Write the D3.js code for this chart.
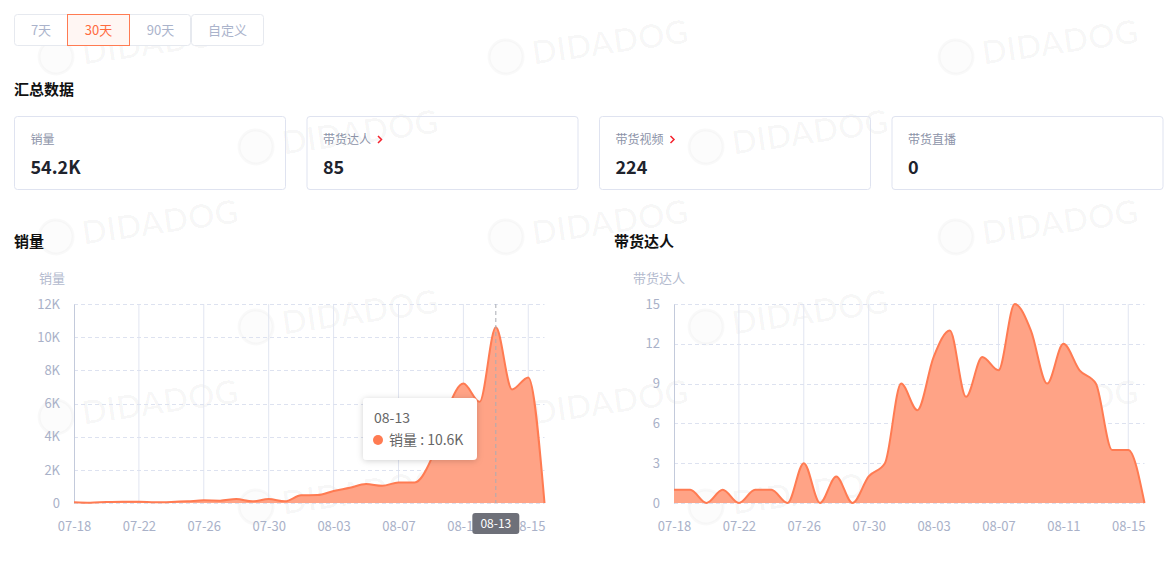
<!DOCTYPE html>
<html>
<head>
<meta charset="utf-8">
<script src="https://cdn.jsdelivr.net/npm/d3@7"></script>
<style>
  html, body { margin: 0; padding: 0; background: #fff; }
  svg { display: block; font-family: "Noto Sans CJK SC", "Noto Sans", sans-serif; }
</style>
</head>
<body>
<div id="app"></div>
<script>
// ---- data ----
const rangeOptions = ['7天', '30天', '90天', '自定义'];
const activeRange = '30天';

const summaryLabels = ['销量', '带货达人', '带货视频', '带货直播'];
const summaryValues = ['54.2K', '85', '224', '0'];
const summaryLinks = [false, true, true, false];

const dates = [
  '07-18', '07-19', '07-20', '07-21', '07-22', '07-23', '07-24', '07-25', '07-26', '07-27',
  '07-28', '07-29', '07-30', '07-31', '08-01', '08-02', '08-03', '08-04', '08-05', '08-06',
  '08-07', '08-08', '08-09', '08-10', '08-11', '08-12', '08-13', '08-14', '08-15', '08-16'
];
const salesValues = [
  50, 20, 60, 80, 80, 40, 60, 100, 160, 140,
  240, 100, 240, 100, 460, 480, 720, 920, 1140, 1040,
  1240, 1240, 2600, 5600, 7200, 6100, 10600, 6850, 7570, 0
];
const talentValues = [
  1, 1, 0, 1, 0, 1, 1, 0, 3, 0,
  2, 0, 2, 3, 9, 7, 11, 13, 8, 11,
  10, 15, 13, 9, 12, 10, 9, 4, 4, 0
];
const salesTicks = [0, 2000, 4000, 6000, 8000, 10000, 12000];
const talentTicks = [0, 3, 6, 9, 12, 15];

const W = 1167, H = 561;
const mainColor = '#ff7b52';
const areaColor = '#ffa386';
const labelColor = '#a9b1c8';

let svg = d3.select('#app').append('svg')
  .attr('width', W)
  .attr('height', H);

let defs = svg.append('defs');
let shadow = defs.append('filter').attr('id', 'tip-shadow')
  .attr('x', '-20%').attr('y', '-30%').attr('width', '140%').attr('height', '160%');
shadow.append('feDropShadow')
  .attr('dx', 0).attr('dy', 1).attr('stdDeviation', 3)
  .attr('flood-color', '#000').attr('flood-opacity', 0.18);

// ---- watermark (very faint, behind content) ----
let marks = [];
d3.range(0, 6).forEach(r => {
  let cols = r % 2 === 0 ? [34, 484, 934] : [234, 684];
  cols.forEach(c => marks.push({ x: c, y: 58 + r * 90 }));
});
let wm = svg.append('g').attr('class', 'watermark').style('pointer-events', 'none');
let mark = wm.selectAll('g')
  .data(marks)
  .enter().append('g')
  .attr('transform', d => 'translate(' + d.x + ',' + d.y + ') rotate(-8)');
mark.append('circle')
  .attr('cx', 22).attr('cy', 2).attr('r', 17)
  .attr('fill', '#000').attr('fill-opacity', 0.012)
  .attr('stroke', '#000').attr('stroke-opacity', 0.025).attr('stroke-width', 3);
mark.append('text')
  .attr('x', 48).attr('y', 2).attr('dy', '0.35em')
  .attr('font-family', 'Lato, "DejaVu Sans", sans-serif')
  .attr('font-size', 33).attr('font-weight', 'bold')
  .attr('fill', '#000').attr('fill-opacity', 0.028)
  .text('DIDADOG');

// ---- range buttons ----
let btnX = [14.5, 67.5, 129.5, 191.5, 263.5];
let btns = svg.append('g').attr('class', 'range');
btns.append('rect')
  .attr('x', btnX[0]).attr('y', 14.5)
  .attr('width', btnX[3] - btnX[0] - 1).attr('height', 31)
  .attr('rx', 3)
  .attr('fill', '#fff').attr('stroke', '#e6e9ef');
btns.append('rect')
  .attr('x', btnX[3]).attr('y', 14.5)
  .attr('width', btnX[4] - btnX[3]).attr('height', 31)
  .attr('rx', 3)
  .attr('fill', '#fff').attr('stroke', '#e6e9ef');
rangeOptions.forEach((d, i) => {
  let x0 = btnX[i], x1 = btnX[i + 1];
  if (d === activeRange) {
    btns.append('rect')
      .attr('x', x0).attr('y', 14.5)
      .attr('width', x1 - x0).attr('height', 31)
      .attr('fill', '#fff6f3').attr('stroke', '#ff7b52');
  }
  btns.append('text')
    .attr('x', (x0 + x1) / 2).attr('y', 30)
    .attr('dy', '0.35em')
    .attr('text-anchor', 'middle')
    .attr('font-size', 13)
    .attr('fill', d === activeRange ? '#ff6b3d' : '#aab3cb')
    .text(d);
});

// ---- summary ----
svg.append('text')
  .attr('x', 14).attr('y', 90).attr('dy', '0.35em')
  .attr('font-size', 15).attr('font-weight', 'bold').attr('fill', '#111')
  .text('汇总数据');

let cardW = 271, cardStep = 292.5;
let cards = svg.selectAll('g.card')
  .data(summaryLabels)
  .enter()
  .append('g')
  .attr('class', 'card')
  .attr('transform', (d, i) => 'translate(' + (14.5 + i * cardStep) + ',116.5)');

cards.append('rect')
  .attr('width', cardW).attr('height', 73)
  .attr('rx', 3)
  .attr('fill', 'none').attr('stroke', '#dfe3f0');

cards.append('text')
  .attr('x', 16).attr('y', 23).attr('dy', '0.35em')
  .attr('font-size', 12).attr('fill', '#8c93a8')
  .text(d => d);

cards.filter((d, i) => summaryLinks[i])
  .append('path')
  .attr('d', d => {
    let x = 16 + d.length * 12 + 7;
    return 'M' + x + ',19.5L' + (x + 3.5) + ',23L' + x + ',26.5';
  })
  .attr('fill', 'none').attr('stroke', '#f5222d').attr('stroke-width', 1.5);

cards.append('text')
  .attr('x', 16).attr('y', 51).attr('dy', '0.35em')
  .attr('font-size', 18).attr('font-weight', 'bold').attr('fill', '#20232d')
  .text((d, i) => summaryValues[i]);

// ---- charts ----
function drawChart({ title, titleX, name, nameX, values, ticks, left, right, fmt, tip }) {
  let top = 304, bottom = 503;
  let g = svg.append('g').attr('class', 'chart');

  g.append('text')
    .attr('x', titleX).attr('y', 242).attr('dy', '0.35em')
    .attr('font-size', 15).attr('font-weight', 'bold').attr('fill', '#111')
    .text(title);

  g.append('text')
    .attr('x', nameX).attr('y', 278).attr('dy', '0.35em')
    .attr('text-anchor', 'middle')
    .attr('font-size', 13).attr('fill', '#b3bace')
    .text(name);

  let x = d3.scalePoint().domain(dates).range([left, right]);
  let y = d3.scaleLinear().domain([0, d3.max(ticks)]).range([bottom, top]);
  let shown = dates.filter((d, i) => i % 4 === 0);

  // vertical grid
  g.append('g').selectAll('line')
    .data(shown.slice(1))
    .enter().append('line')
    .attr('x1', d => x(d)).attr('x2', d => x(d))
    .attr('y1', top).attr('y2', bottom)
    .attr('stroke', '#e1e5f1').attr('stroke-width', 1);

  // horizontal grid
  g.append('g').selectAll('line')
    .data(ticks)
    .enter().append('line')
    .attr('x1', left).attr('x2', right)
    .attr('y1', d => Math.round(y(d)) + 0.5).attr('y2', d => Math.round(y(d)) + 0.5)
    .attr('stroke', '#dde2f0').attr('stroke-dasharray', '4,3');

  // y axis
  let yAxis = g.append('g')
    .attr('transform', 'translate(' + left + ',0)')
    .call(d3.axisLeft(y).tickValues(ticks).tickSize(0).tickPadding(14).tickFormat(fmt));
  yAxis.select('.domain').attr('stroke', '#c3cadb');
  yAxis.selectAll('text').attr('font-size', 13).attr('fill', labelColor)
    .attr('font-family', '"Noto Sans CJK SC", sans-serif');

  // x axis labels
  let xAxis = g.append('g')
    .attr('transform', 'translate(0,' + bottom + ')')
    .call(d3.axisBottom(x).tickValues(shown).tickSize(0).tickPadding(19));
  xAxis.select('.domain').remove();
  xAxis.selectAll('text').attr('font-size', 13).attr('fill', labelColor)
    .attr('font-family', '"Noto Sans CJK SC", sans-serif');

  let area = d3.area()
    .x((d, i) => x(dates[i]))
    .y0(bottom)
    .y1(d => y(d))
    .curve(d3.curveMonotoneX);
  let line = d3.line()
    .x((d, i) => x(dates[i]))
    .y(d => y(d))
    .curve(d3.curveMonotoneX);

  g.append('path').datum(values)
    .attr('d', area)
    .attr('fill', areaColor);
  g.append('path').datum(values)
    .attr('d', line)
    .attr('fill', 'none')
    .attr('stroke', mainColor)
    .attr('stroke-width', 2);

  if (tip) {
    let idx = dates.indexOf(tip.date);
    let px = x(tip.date);
    g.append('line')
      .attr('x1', px).attr('x2', px)
      .attr('y1', top).attr('y2', bottom)
      .attr('stroke', '#a9acb4').attr('stroke-dasharray', '4,3');

    let lab = g.append('g').attr('transform', 'translate(' + px + ',524)');
    lab.append('rect')
      .attr('x', -23.5).attr('y', -11).attr('width', 47).attr('height', 21)
      .attr('rx', 3).attr('fill', '#6e7079');
    lab.append('text')
      .attr('text-anchor', 'middle').attr('dy', '0.35em')
      .attr('font-size', 12).attr('fill', '#fff')
      .text(tip.date);

    let box = g.append('g').attr('transform', 'translate(363,398)');
    box.append('rect')
      .attr('width', 114).attr('height', 62).attr('rx', 4)
      .attr('fill', '#fff').attr('filter', 'url(#tip-shadow)');
    box.append('text')
      .attr('x', 11).attr('y', 20).attr('dy', '0.35em')
      .attr('font-size', 14).attr('fill', '#666')
      .text(tip.date);
    box.append('circle')
      .attr('cx', 15).attr('cy', 42).attr('r', 5)
      .attr('fill', mainColor);
    box.append('text')
      .attr('x', 26).attr('y', 42).attr('dy', '0.35em')
      .attr('font-size', 14).attr('fill', '#666')
      .text(name + ' : ' + fmt(values[idx]));
  }
}

let fmtK = d => d === 0 ? '0' : d3.format('.3~')(d / 1000) + 'K';

drawChart({
  title: '销量', titleX: 14, name: '销量', nameX: 52,
  values: salesValues, ticks: salesTicks,
  left: 74, right: 544.5, fmt: fmtK,
  tip: { date: '08-13' }
});
drawChart({
  title: '带货达人', titleX: 614, name: '带货达人', nameX: 659,
  values: talentValues, ticks: talentTicks,
  left: 674, right: 1144.5, fmt: d => String(d)
});
</script>
</body>
</html>
